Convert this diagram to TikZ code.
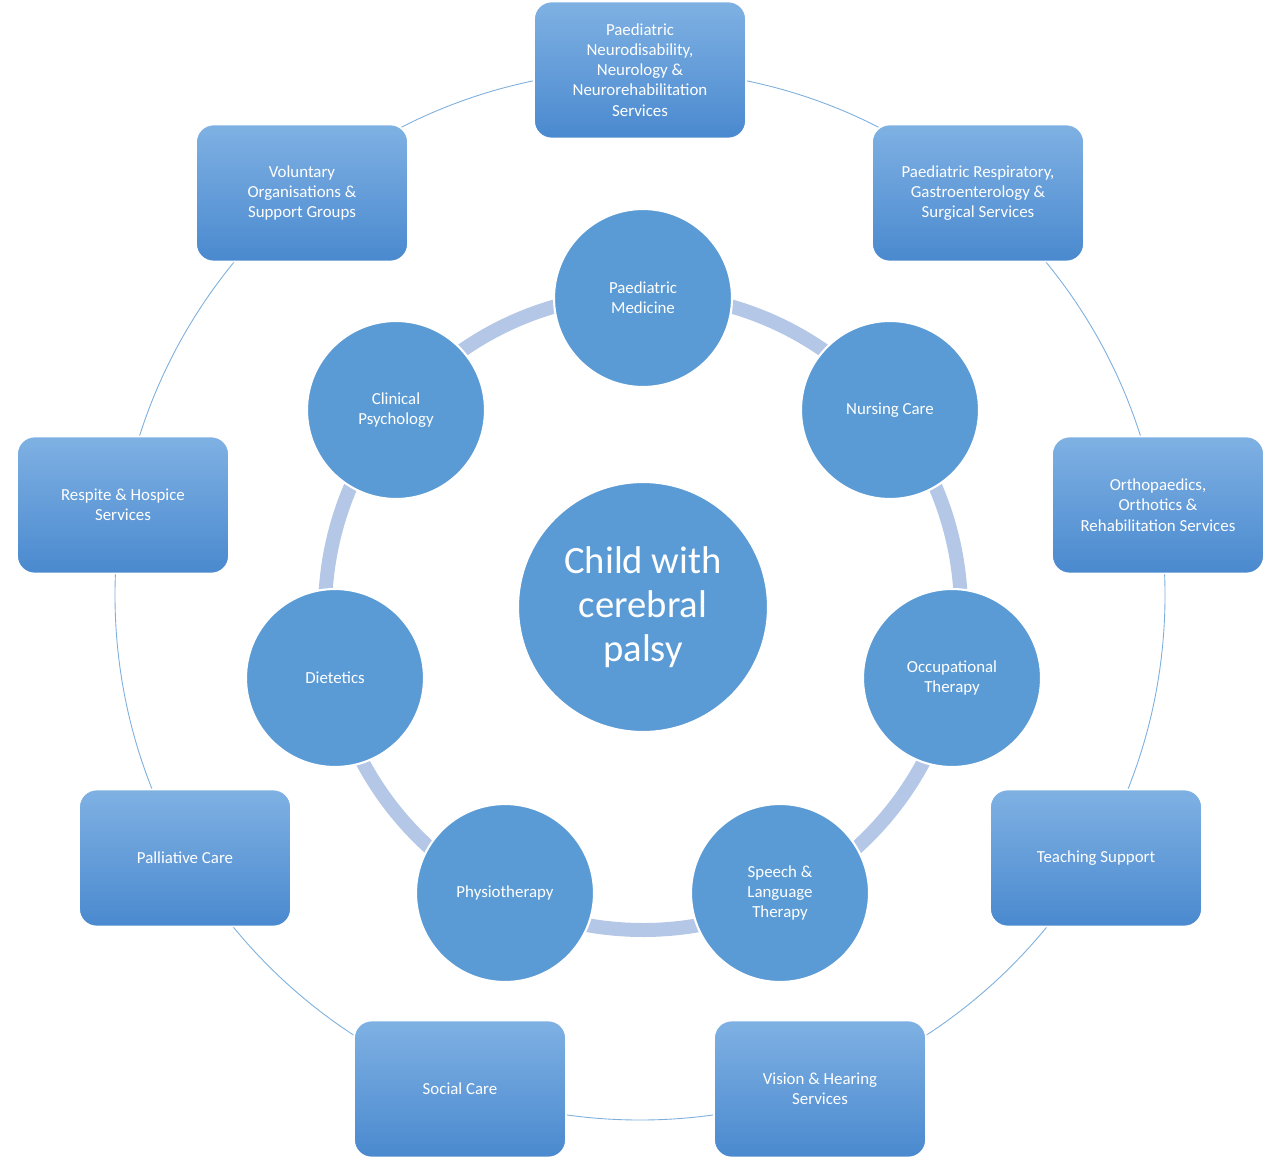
\documentclass[tikz,border=0pt]{standalone}
\usepackage{fontspec}
\setmainfont{Carlito}
\definecolor{cfill}{HTML}{5B9BD5}
\definecolor{ring}{HTML}{B4C7E7}
\definecolor{btop}{HTML}{7FB1E3}
\definecolor{bbot}{HTML}{4A89CF}
\begin{document}
\begin{tikzpicture}[x=0.02cm,y=-0.02cm,
  svc/.style={circle,fill=cfill,draw=white,line width=1.2pt,minimum size=178*0.02cm,text=white,align=center,font=\fontsize{9.6}{11.5}\selectfont,inner sep=0pt},
  box/.style={rounded corners=10pt,top color=btop,bottom color=bbot,draw=white,line width=1pt,minimum width=212*0.02cm,minimum height=137*0.02cm,text=white,align=center,font=\fontsize{9.6}{11.5}\selectfont,inner sep=2pt}]
\useasboundingbox (0,0) rectangle (1280,1158);
\coordinate (oc) at (640,595);
\coordinate (ic) at (643,612);
\draw[cfill!80,line width=0.5pt] (oc) circle[radius=525*0.02cm];
\draw[ring,line width=14*0.02cm] (ic) circle[radius=318*0.02cm];
\node[box] (b1) at (640,70) {Paediatric\\Neurodisability,\\Neurology \&\\Neurorehabilitation\\Services};
\node[box] (b2) at (978,193) {Paediatric Respiratory,\\Gastroenterology \&\\Surgical Services};
\node[box] (b3) at (1158,505) {Orthopaedics,\\Orthotics \&\\Rehabilitation Services};
\node[box] (b4) at (1096,858) {Teaching Support};
\node[box] (b5) at (820,1089) {Vision \& Hearing\\Services};
\node[box] (b6) at (460,1089) {Social Care};
\node[box] (b7) at (185,858) {Palliative Care};
\node[box] (b8) at (123,505) {Respite \& Hospice\\Services};
\node[box] (b9) at (302,193) {Voluntary\\Organisations \&\\Support Groups};
\node[svc] (c1) at (643,298) {Paediatric\\Medicine};
\node[svc] (c2) at (890,410) {Nursing Care};
\node[svc] (c3) at (952,678) {Occupational\\Therapy};
\node[svc] (c4) at (780,893) {Speech \&\\Language\\Therapy};
\node[svc] (c5) at (505,893) {Physiotherapy};
\node[svc] (c6) at (335,678) {Dietetics};
\node[svc] (c7) at (396,410) {Clinical\\Psychology};
\node[circle,fill=cfill,draw=white,line width=1.2pt,minimum size=250*0.02cm,text=white,align=center,font=\fontsize{22}{25}\selectfont] (ctr) at (643,607) {Child with\\cerebral\\palsy};
\end{tikzpicture}
\end{document}
